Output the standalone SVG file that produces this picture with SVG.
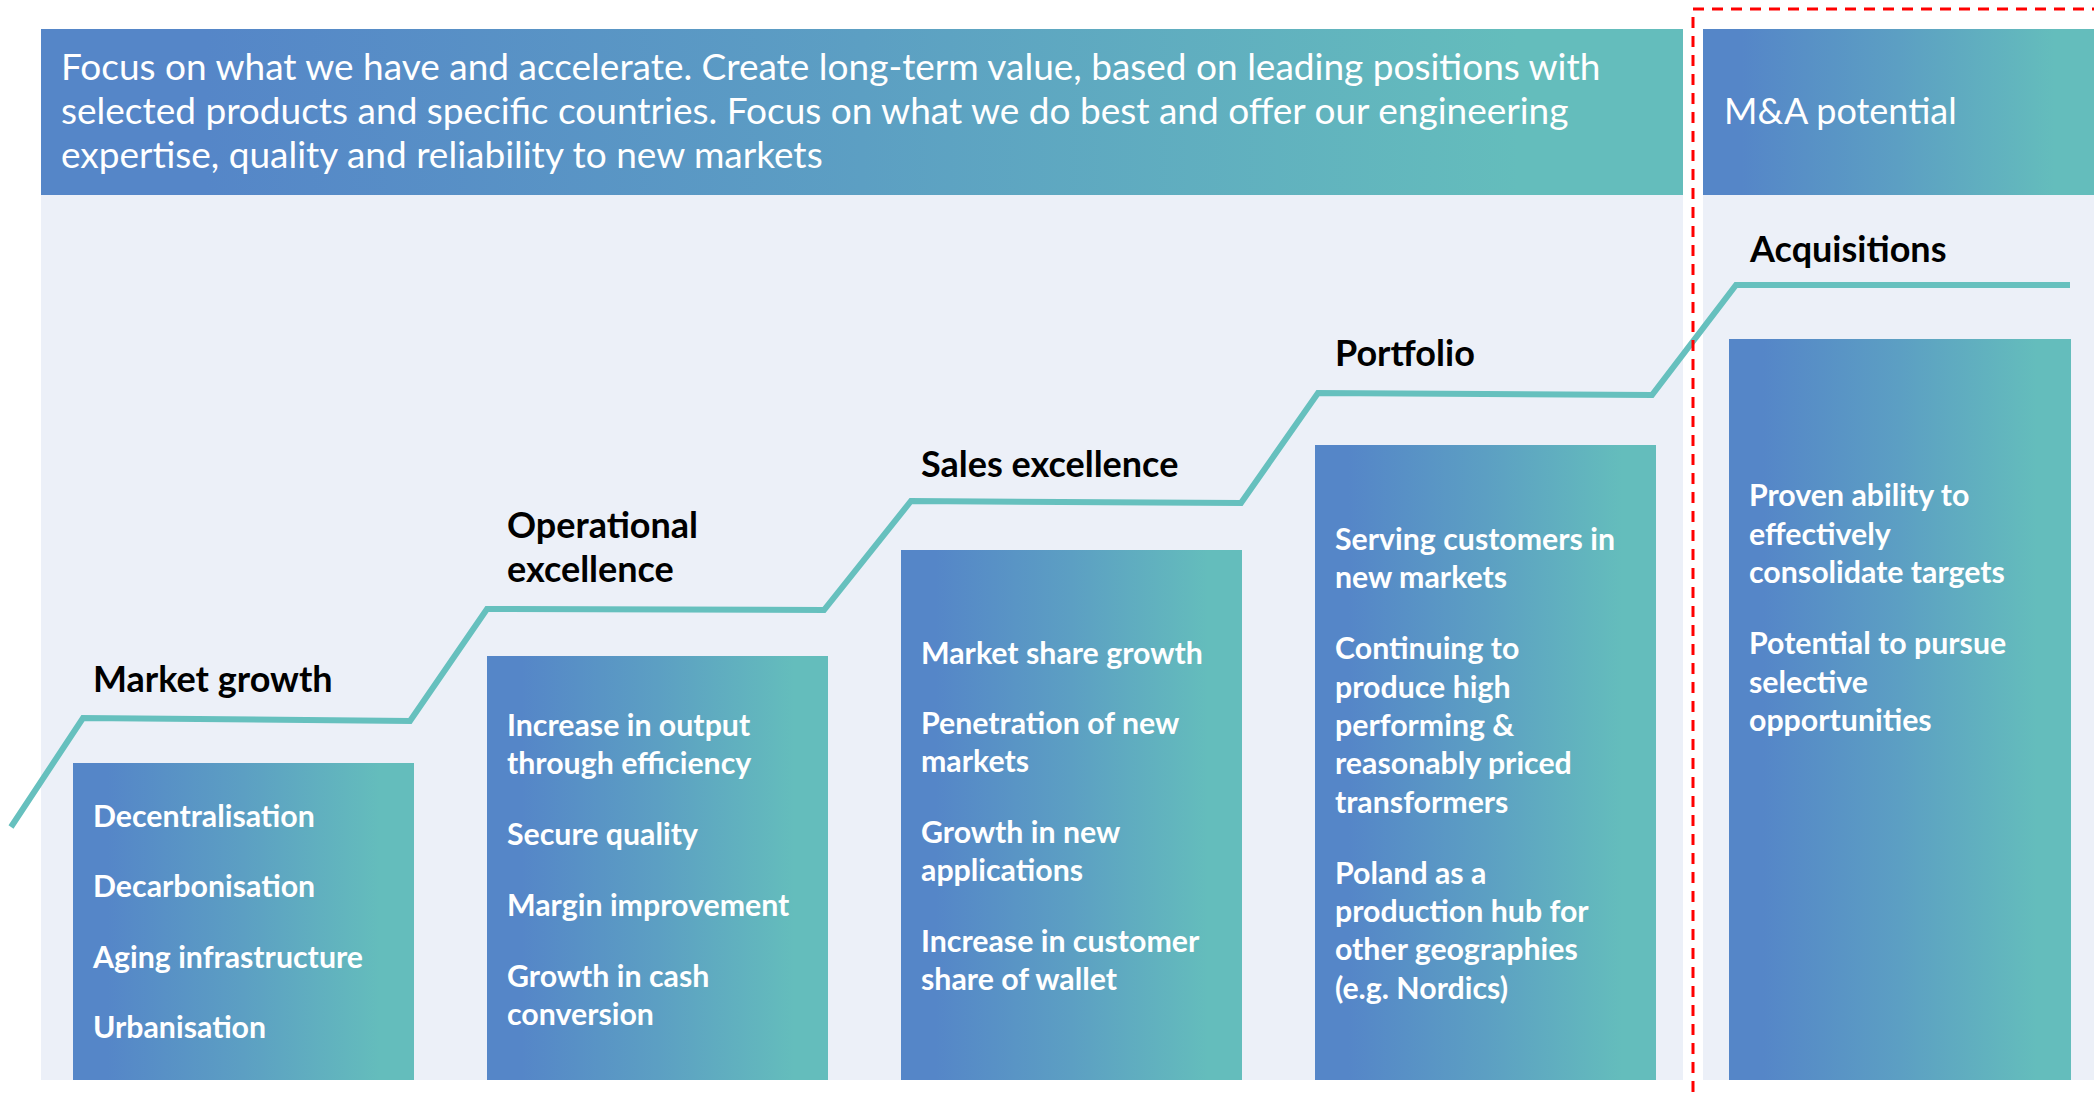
<svg xmlns="http://www.w3.org/2000/svg" width="2094" height="1094" viewBox="0 0 2094 1094">
  <defs>
    <linearGradient id="grad" x1="0" y1="0" x2="1" y2="0">
      <stop offset="0.1" stop-color="#5586C8"/>
      <stop offset="0.5" stop-color="#5C9FC3"/>
      <stop offset="0.9" stop-color="#64BDBC"/>
    </linearGradient>
    <style>
      .bg { fill: #ECF0F8; }
      .box { fill: url(#grad); }
      .step { fill: none; stroke: #66C0BE; stroke-width: 6; stroke-linejoin: miter; }
      .title { font-family: Lato, "Liberation Sans", sans-serif; font-weight: 700; font-size: 36px; fill: #000000; }
      .item { font-family: Lato, "Liberation Sans", sans-serif; font-weight: 700; font-size: 30.3px; fill: #FFFFFF; }
      .banner { font-family: Lato, "Liberation Sans", sans-serif; font-weight: 400; font-size: 37px; fill: #FFFFFF; }
      .dash { fill: none; stroke: #FF0000; stroke-width: 3; stroke-dasharray: 11 8; }
    </style>
  </defs>
  <rect width="2094" height="1094" fill="#FFFFFF"/>

  <g id="background">
    <rect class="bg" x="41" y="195" width="1642" height="885"/>
    <rect class="bg" x="1703" y="195" width="391" height="885"/>
  </g>

  <g id="banner-main">
    <rect class="box" x="41" y="29" width="1642" height="166"/>
    <text class="banner" x="61" y="80">Focus on what we have and accelerate. Create long-term value, based on leading positions with</text>
    <text class="banner" x="61" y="124">selected products and specific countries. Focus on what we do best and offer our engineering</text>
    <text class="banner" x="61" y="168">expertise, quality and reliability to new markets</text>
  </g>

  <g id="banner-ma">
    <rect class="box" x="1703" y="29" width="391" height="166"/>
    <text class="banner" x="1724" y="124" style="font-size:36px">M&amp;A potential</text>
  </g>

  <g id="connectors">
    <polyline class="step" points="11,827 83,718 410,721 487,609 824,610 911,501 1241,503 1318,393 1652,395 1736,285 2070,285"/>
  </g>

  <g id="market-growth">
    <text class="title" x="93" y="692">Market growth</text>
    <rect class="box" x="73" y="763" width="341" height="317"/>
    <text class="item" x="93" y="827">Decentralisation</text>
    <text class="item" x="93" y="897">Decarbonisation</text>
    <text class="item" x="93" y="968">Aging infrastructure</text>
    <text class="item" x="93" y="1038">Urbanisation</text>
  </g>

  <g id="operational-excellence">
    <text class="title" x="507" y="538">Operational</text>
    <text class="title" x="507" y="582">excellence</text>
    <rect class="box" x="487" y="656" width="341" height="424"/>
    <text class="item" x="507" y="736">Increase in output</text>
    <text class="item" x="507" y="774">through efficiency</text>
    <text class="item" x="507" y="845">Secure quality</text>
    <text class="item" x="507" y="916">Margin improvement</text>
    <text class="item" x="507" y="987">Growth in cash</text>
    <text class="item" x="507" y="1025">conversion</text>
  </g>

  <g id="sales-excellence">
    <text class="title" x="921" y="477">Sales excellence</text>
    <rect class="box" x="901" y="550" width="341" height="530"/>
    <text class="item" x="921" y="664">Market share growth</text>
    <text class="item" x="921" y="734">Penetration of new</text>
    <text class="item" x="921" y="772">markets</text>
    <text class="item" x="921" y="843">Growth in new</text>
    <text class="item" x="921" y="881">applications</text>
    <text class="item" x="921" y="952">Increase in customer</text>
    <text class="item" x="921" y="990">share of wallet</text>
  </g>

  <g id="portfolio">
    <text class="title" x="1335" y="366">Portfolio</text>
    <rect class="box" x="1315" y="445" width="341" height="635"/>
    <text class="item" x="1335" y="550">Serving customers in</text>
    <text class="item" x="1335" y="588">new markets</text>
    <text class="item" x="1335" y="659">Continuing to</text>
    <text class="item" x="1335" y="698">produce high</text>
    <text class="item" x="1335" y="736">performing &amp;</text>
    <text class="item" x="1335" y="774">reasonably priced</text>
    <text class="item" x="1335" y="813">transformers</text>
    <text class="item" x="1335" y="884">Poland as a</text>
    <text class="item" x="1335" y="922">production hub for</text>
    <text class="item" x="1335" y="960">other geographies</text>
    <text class="item" x="1335" y="999">(e.g. Nordics)</text>
  </g>

  <g id="acquisitions">
    <text class="title" x="1750" y="262">Acquisitions</text>
    <rect class="box" x="1729" y="339" width="342" height="741"/>
    <text class="item" x="1749" y="506">Proven ability to</text>
    <text class="item" x="1749" y="545">effectively</text>
    <text class="item" x="1749" y="583">consolidate targets</text>
    <text class="item" x="1749" y="654">Potential to pursue</text>
    <text class="item" x="1749" y="693">selective</text>
    <text class="item" x="1749" y="731">opportunities</text>
  </g>

  <g id="ma-boundary">
    <rect class="dash" x="1693" y="9" width="420" height="1100"/>
  </g>
</svg>
